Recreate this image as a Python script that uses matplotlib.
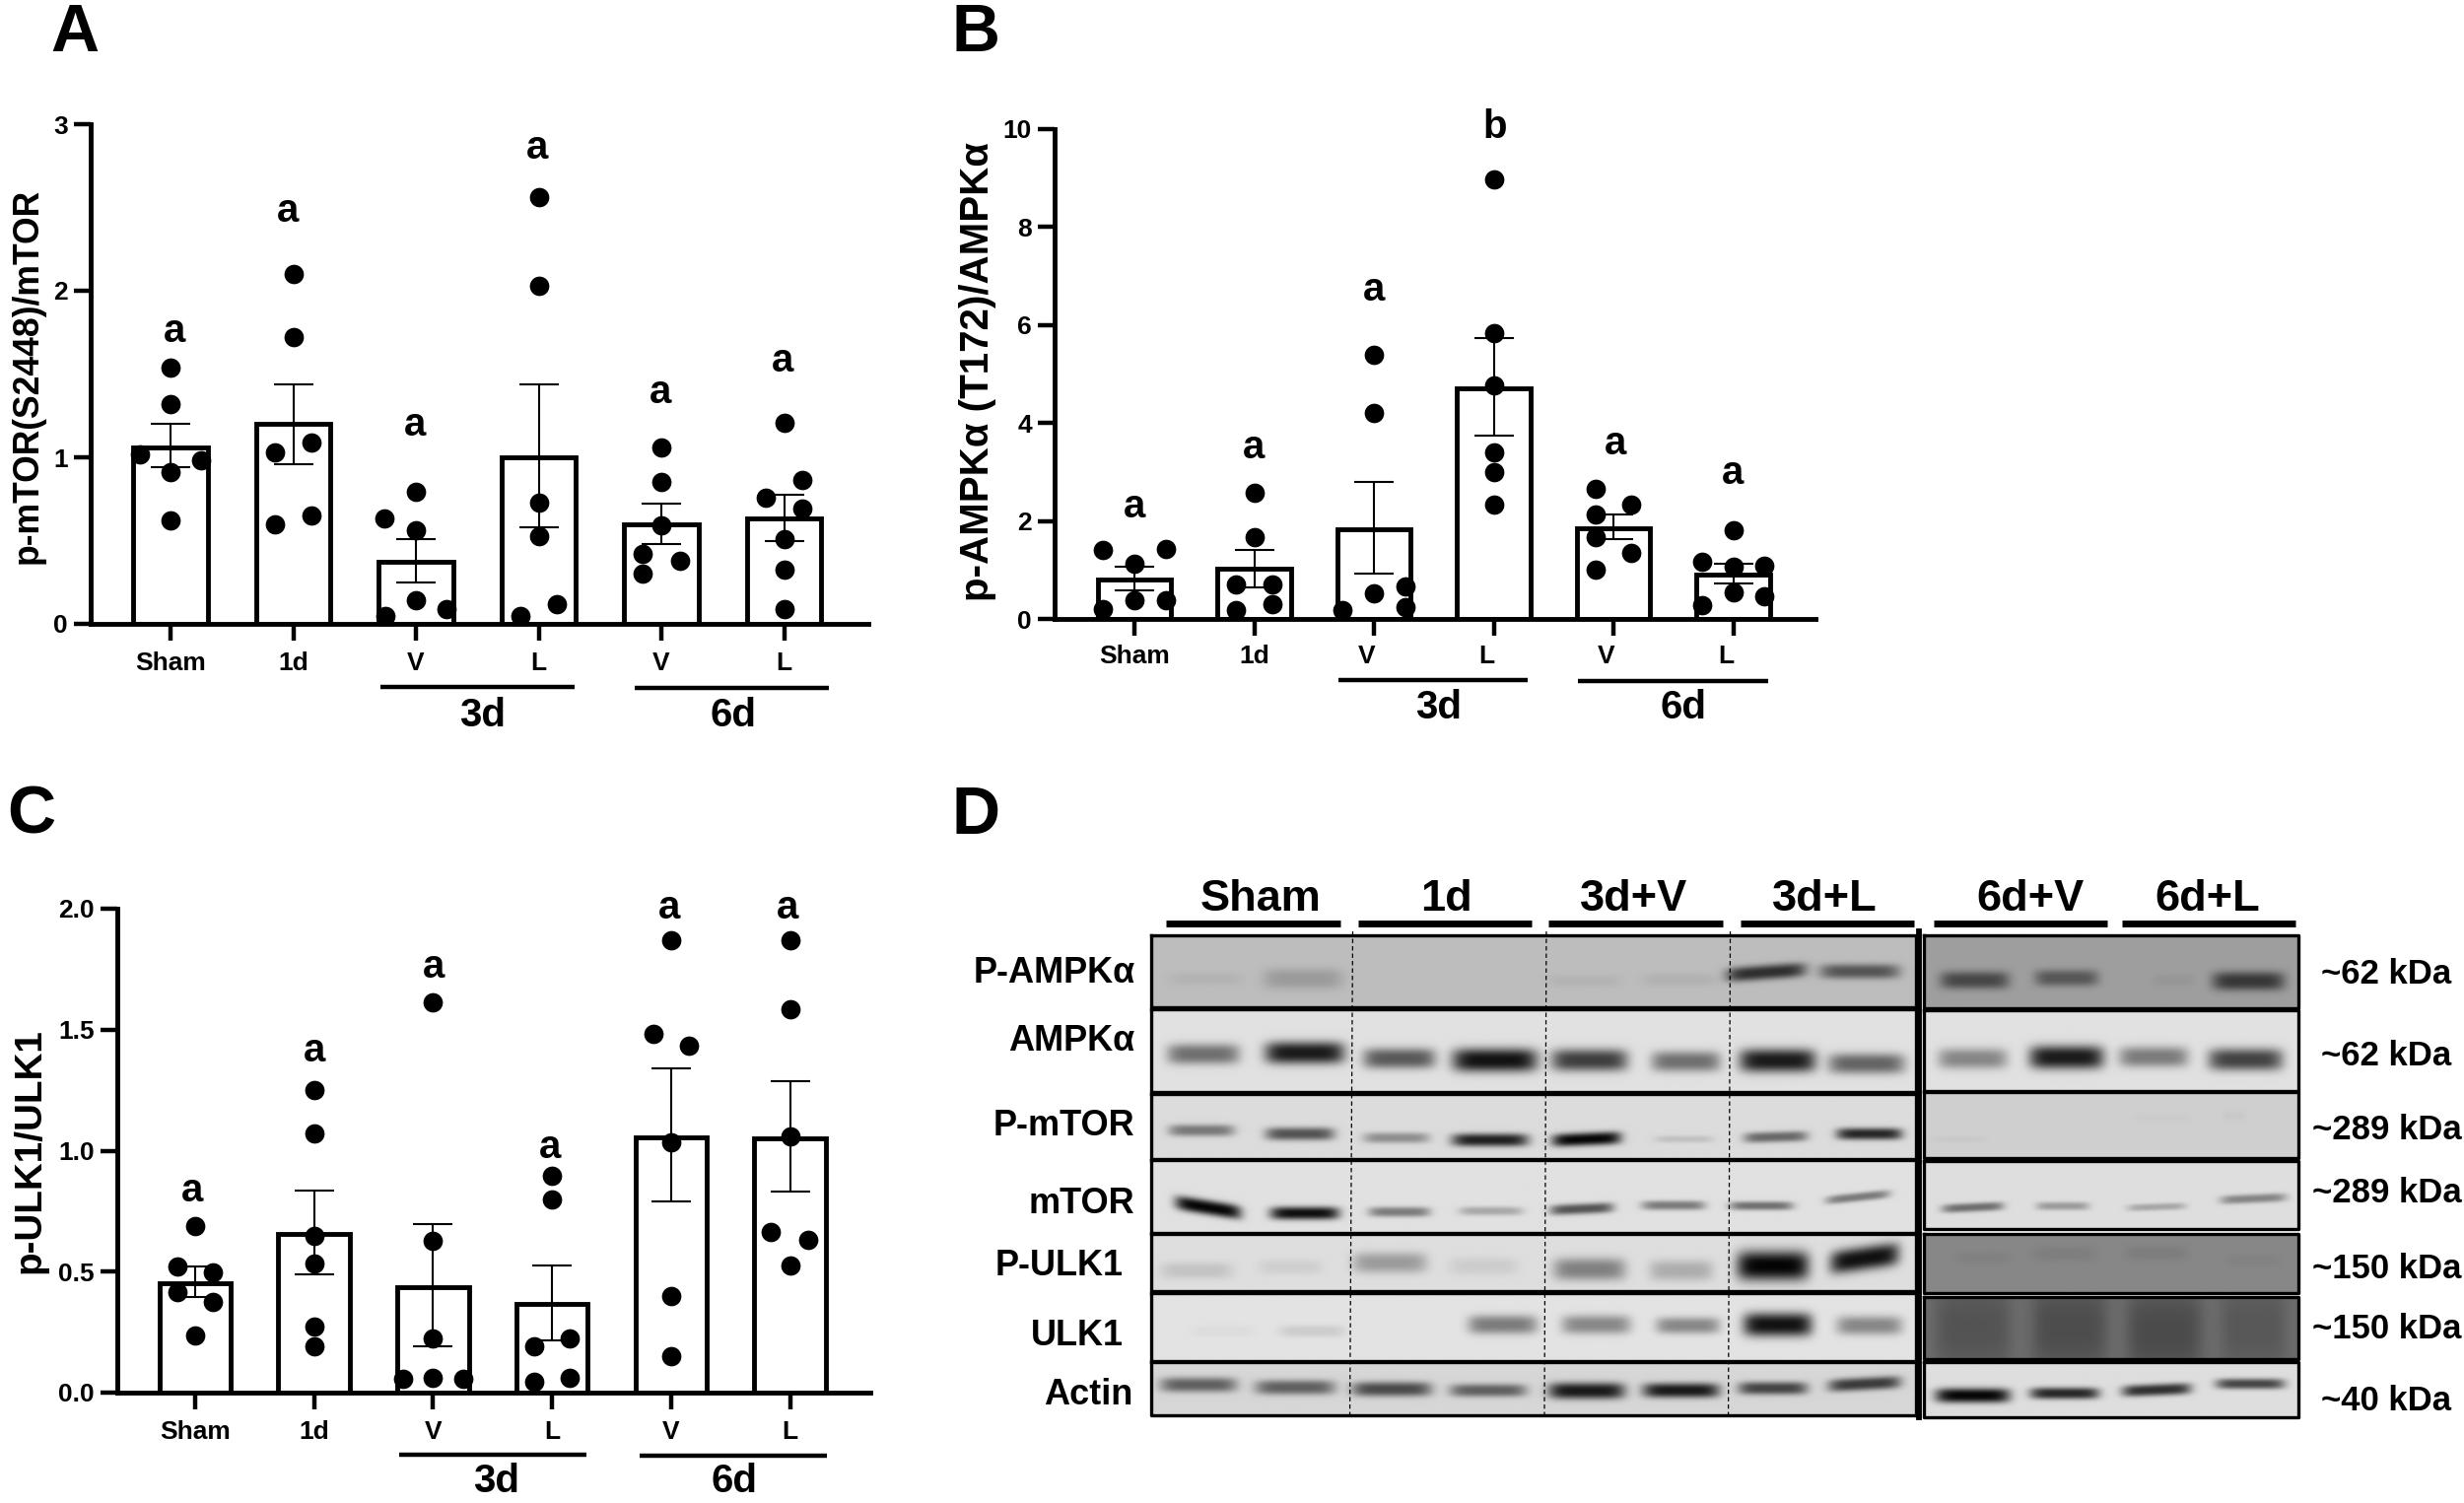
import numpy as np
import matplotlib
matplotlib.use("Agg")
import matplotlib.pyplot as plt
from matplotlib.transforms import ScaledTranslation

plt.rcParams['font.family'] = ['Liberation Sans', 'DejaVu Sans']
plt.rcParams['font.weight'] = 'bold'

W, H = 2500, 1525
cats = ['Sham', '1d', 'V', 'L', 'V', 'L']

# Panel A
a_mean = [1.06, 1.20, 0.37, 1.00, 0.60, 0.635]
a_hi = [1.20, 1.44, 0.51, 1.435, 0.72, 0.775]
a_lo = [0.94, 0.96, 0.25, 0.58, 0.48, 0.50]
a_pts = [[1.54, 1.32, 1.02, 0.98, 0.91, 0.62],
         [2.10, 1.72, 1.03, 1.09, 0.60, 0.65],
         [0.79, 0.635, 0.56, 0.14, 0.05, 0.09],
         [2.56, 2.03, 0.73, 0.525, 0.05, 0.12],
         [1.06, 0.85, 0.59, 0.42, 0.38, 0.30],
         [1.21, 0.865, 0.76, 0.695, 0.51, 0.325, 0.086]]
a_off = [[0, 0, -.25, .25, 0, 0],
         [0, 0, -.15, .15, -.15, .15],
         [0, -.26, 0, 0, -.25, .25],
         [0, 0, 0, 0, -.15, .15],
         [0, 0, 0, -.15, .15, -.15],
         [0, .15, -.15, .15, 0, 0, 0]]
a_let = ['a', 'a', 'a', 'a', 'a', 'a']
a_let_y = [1.76, 2.48, 1.197, 2.857, 1.39, 1.58]

# Panel B
b_mean = [0.80, 1.02, 1.83, 4.70, 1.85, 0.91]
b_hi = [1.06, 1.41, 2.80, 5.73, 2.13, 1.12]
b_lo = [0.585, 0.65, 0.93, 3.74, 1.62, 0.73]
b_pts = [[1.41, 1.43, 1.12, 0.39, 0.39, 0.195],
         [2.58, 1.68, 0.71, 0.71, 0.30, 0.185],
         [5.39, 4.20, 0.67, 0.52, 0.24, 0.185],
         [8.98, 5.83, 4.76, 3.41, 3.0, 2.34],
         [2.65, 2.34, 2.14, 1.68, 1.35, 1.01],
         [1.82, 1.16, 1.07, 1.08, 0.54, 0.47, 0.29]]
b_off = [[-.26, .26, 0, 0, .26, -.26],
         [0, 0, -.15, .15, .15, -.15],
         [0, 0, .26, 0, .26, -.26],
         [0, 0, 0, 0, 0, 0],
         [-.15, .15, -.15, -.15, .15, -.15],
         [0, -.26, 0, .26, 0, .26, -.26]]
b_let = ['a', 'a', 'a', 'b', 'a', 'a']
b_let_y = [2.29, 3.51, 6.73, 10.05, 3.58, 2.98]

# Panel C
c_mean = [0.454, 0.657, 0.437, 0.365, 1.057, 1.05]
c_hi = [0.52, 0.837, 0.696, 0.526, 1.339, 1.287]
c_lo = [0.396, 0.487, 0.19, 0.214, 0.79, 0.829]
c_pts = [[0.69, 0.52, 0.497, 0.415, 0.373, 0.238],
         [1.25, 1.07, 0.647, 0.533, 0.272, 0.19],
         [1.614, 0.628, 0.224, 0.058, 0.06, 0.058],
         [0.895, 0.798, 0.224, 0.19, 0.06, 0.044],
         [1.87, 1.482, 1.434, 1.034, 0.40, 0.15],
         [1.87, 1.583, 1.059, 0.663, 0.63, 0.524]]
c_off = [[0, -.15, .15, -.15, .15, 0],
         [0, 0, 0, 0, 0, 0],
         [0, 0, 0, -.25, 0, .25],
         [0, 0, .15, -.15, .15, -.15],
         [0, -.15, .15, 0, 0, 0],
         [0, 0, 0, -.16, .15, 0]]
c_let = ['a', 'a', 'a', 'a', 'a', 'a']
c_let_y = [0.837, 1.413, 1.76, 1.014, 2.006, 2.006]

# Panel D: blot labels and band tables (lane x, band y, width, height, darkness, tilt)
d_groups = ['Sham', '1d', '3d+V', '3d+L', '6d+V', '6d+L']
d_group_x = [325, 517, 710, 908, 1120, 1303]
d_group_bars = [(227, 407), (426, 605), (622, 802), (821, 1000), (1020, 1199), (1215, 1394)]
d_rows = ['P-AMPKα', 'AMPKα', 'P-mTOR', 'mTOR', 'P-ULK1', 'ULK1', 'Actin']
d_row_y = [463, 620, 815, 995, 1138, 1298, 1435]
d_row_right = [195, 195, 195, 195, 183, 183, 193]
d_kda = ['~62 kDa', '~62 kDa', '~289 kDa', '~289 kDa', '~150 kDa', '~150 kDa', '~40 kDa']
d_kda_y = [465, 655, 825, 970, 1145, 1285, 1450]
left_rows = [(383, 550), (555, 745), (750, 900), (903, 1070), (1072, 1205), (1208, 1365), (1368, 1490)]
right_rows = [(383, 552), (557, 742), (746, 898), (905, 1062), (1073, 1210), (1218, 1362), (1368, 1495)]
left_bg = [0.74, 0.88, 0.86, 0.88, 0.87, 0.89, 0.84]
right_bg = [0.62, 0.88, 0.81, 0.87, 0.53, 0.42, 0.87]
left_bands = [
    [(268, 485, 70, 22, .05, 0), (368, 485, 75, 35, .18, 0), (660, 490, 70, 20, .05, 0), (758, 487, 70, 22, .06, 0),
     (848, 470, 75, 25, .75, -12), (945, 468, 75, 25, .55, 0)],
    [(265, 658, 68, 35, .5, 0), (370, 655, 75, 38, .88, 0), (468, 668, 68, 35, .6, 0), (567, 672, 80, 40, .92, 0),
     (665, 672, 72, 38, .72, 0), (765, 675, 65, 35, .5, 0), (860, 673, 72, 40, .88, 0), (952, 680, 72, 35, .55, 0)],
    [(263, 835, 62, 20, .45, 0), (365, 843, 65, 22, .62, 0), (465, 852, 62, 18, .35, 0), (562, 857, 72, 22, .85, 0),
     (662, 855, 65, 22, .97, -6), (763, 855, 55, 12, .12, 0), (858, 850, 60, 18, .52, -4), (955, 843, 62, 20, .82, 0)],
    [(270, 1012, 62, 25, .97, 22), (370, 1025, 65, 22, .93, 0), (468, 1022, 58, 17, .45, 0), (563, 1020, 60, 15, .25, 0),
     (657, 1015, 60, 18, .62, -6), (752, 1007, 60, 16, .45, 0), (843, 1008, 60, 15, .5, 0), (943, 988, 60, 15, .45, -14)],
    [(258, 1158, 68, 28, .12, 0), (355, 1150, 60, 25, .07, 0), (458, 1140, 70, 35, .3, 0), (555, 1148, 65, 30, .08, 0),
     (665, 1155, 68, 38, .42, 0), (760, 1158, 60, 35, .22, 0), (855, 1147, 68, 50, .98, 0), (950, 1130, 65, 40, .92, -20)],
    [(285, 1297, 60, 20, .03, 0), (378, 1297, 62, 20, .1, 0), (575, 1282, 65, 32, .45, 0), (672, 1282, 65, 32, .4, 0),
     (767, 1284, 60, 28, .4, 0), (860, 1282, 65, 40, .92, 0), (955, 1284, 62, 32, .4, 0)],
    [(260, 1420, 72, 25, .55, 0), (360, 1426, 75, 25, .55, 0), (460, 1430, 75, 25, .65, 0), (560, 1433, 72, 22, .55, 0),
     (662, 1434, 72, 28, .88, 0), (760, 1433, 72, 25, .88, 0), (855, 1428, 65, 22, .68, 0), (950, 1418, 68, 22, .72, -8)],
]
right_bands = [
    [(1062, 488, 65, 30, .55, 0), (1157, 483, 60, 28, .45, 0), (1268, 488, 40, 20, .05, 0), (1345, 490, 68, 32, .65, 0)],
    [(1060, 668, 65, 35, .4, 0), (1157, 665, 70, 40, .88, 0), (1247, 664, 65, 35, .45, 0), (1342, 670, 70, 38, .7, 0)],
    [(1045, 855, 50, 10, .03, 0), (1255, 805, 50, 12, .02, 0), (1330, 800, 20, 15, .03, 0)],
    [(1060, 1013, 58, 15, .5, -6), (1153, 1010, 50, 14, .3, 0), (1250, 1012, 55, 12, .25, -4), (1350, 993, 62, 15, .4, -6)],
    [(1070, 1130, 50, 20, .05, 0), (1155, 1120, 60, 25, .07, 0), (1250, 1118, 60, 25, .07, 0), (1350, 1135, 50, 20, .04, 0)],
    [(1060, 1290, 70, 140, .22, 0), (1160, 1290, 70, 140, .28, 0), (1258, 1300, 70, 140, .3, 0), (1350, 1290, 60, 140, .18, 0)],
    [(1060, 1445, 70, 25, .97, 0), (1155, 1440, 65, 20, .82, 0), (1250, 1432, 65, 20, .78, -6), (1347, 1418, 65, 18, .68, 0)],
]
dash_x = [(420, 417), (620, 618), (810, 808)]

fig = plt.figure(figsize=(W / 100, H / 100), dpi=100, facecolor='white')
bg = fig.add_axes([0, 0, 1, 1])
bg.set_xlim(0, W)
bg.set_ylim(H, 0)
bg.axis('off')


def panel(left, right, y0, ytop, c0, spacing, ymax, yticks, yfmt, mean, hi, lo, pts, off, let, let_y, let_dx,
          ylabel, yl_x, yl_y, yl_fs, bar_w, cap, pad, lab_dx):
    ax = fig.add_axes([left / W, 1 - y0 / H, (right - left) / W, (y0 - ytop) / H])
    ax.patch.set_alpha(0)
    ax.set_xlim((left - c0) / spacing, (right - c0) / spacing)
    ax.set_ylim(0, ymax)
    x = np.arange(len(mean))
    ax.bar(x, mean, width=bar_w, facecolor='white', edgecolor='black', linewidth=3.5, zorder=2)
    ax.errorbar(x, mean, yerr=[np.array(mean) - np.array(lo), np.array(hi) - np.array(mean)], fmt='none',
                ecolor='black', elinewidth=1.5, capsize=cap, capthick=1.5, zorder=3)
    for i, (p, o) in enumerate(zip(pts, off)):
        ax.plot(i + np.array(o), p, 'o', color='black', ms=14.2, mew=0, zorder=4, clip_on=False)
    for i, (t, yy, d) in enumerate(zip(let, let_y, let_dx)):
        ax.annotate(t, xy=(i, yy), xytext=(d * .72, -8), textcoords='offset points', ha='center', va='baseline',
                    fontsize=29, fontweight='bold', color='black', annotation_clip=False)
    for s in ('top', 'right'):
        ax.spines[s].set_visible(False)
    for s in ('left', 'bottom'):
        ax.spines[s].set_linewidth(3.5)
    ax.set_yticks(yticks)
    ax.set_yticklabels([yfmt % v for v in yticks], fontsize=19, fontweight='bold')
    ax.set_xticks(x)
    ax.set_xticklabels(cats, fontsize=19, fontweight='bold')
    ax.tick_params(axis='both', length=12.5, width=3.2)
    ax.tick_params(axis='x', pad=pad)
    ax.tick_params(axis='y', pad=4)
    for l, d in zip(ax.get_xticklabels(), lab_dx):
        l.set_transform(l.get_transform() + ScaledTranslation(d / 100, 0, fig.dpi_scale_trans))
    bg.text(yl_x, yl_y, ylabel, rotation=90, ha='center', va='center', fontsize=yl_fs, fontweight='bold')
    return ax


panel(92, 881, 633, 126, 173, 124.5, 3, [0, 1, 2, 3], '%d', a_mean, a_hi, a_lo, a_pts, a_off, a_let, a_let_y,
      [4, -5, -1, -1, -1, -1], 'p-mTOR(S2448)/mTOR', 28, 381, 25.6, .605, 14.5, 8, [0] * 6)
panel(1070, 1842, 628, 131, 1151, 121.5, 10, [0, 2, 4, 6, 8, 10], '%d', b_mean, b_hi, b_lo, b_pts, b_off, b_let,
      b_let_y, [0, 0, 0, 1, 2, 0], 'p-AMPKα (T172)/AMPKα', 992, 377, 29, .61, 14.5, 6.5, [0, 0, -7, -7, -7, -7])
panel(119, 883, 1413, 922, 198, 120.7, 2, [0, .5, 1, 1.5, 2], '%.1f', c_mean, c_hi, c_lo, c_pts, c_off, c_let,
      c_let_y, [-3, 0, 1, -2, -2, -2], 'p-ULK1/ULK1', 30, 1168, 27.8, .60, 14.5, 8, [0] * 6)

# group bars and captions under the three graphs
group_lines = [(386, 583, 697, '3d', 490, 737), (644, 841, 698, '6d', 744, 737),
               (1358, 1550, 690, '3d', 1460, 729), (1601, 1794, 691, '6d', 1708, 729),
               (405, 595, 1476, '3d', 504, 1514), (649, 839, 1477, '6d', 745, 1514)]
for x0, x1, yy, t, tx, ty in group_lines:
    bg.plot([x0, x1], [yy, yy], color='black', lw=3.2, solid_capstyle='butt')
    bg.text(tx, ty, t, ha='center', va='baseline', fontsize=29, fontweight='bold')

# panel letters
for t, tx, ty in [('A', 76, 52), ('B', 966, 52), ('C', 7, 846), ('D', 966, 846)]:
    bg.text(tx, ty, t, ha='center' if t == 'A' else 'left', va='baseline', fontsize=49, fontweight='bold')


# panel D
def DX(z):
    return 960 + z * 1540 / 1568


def DY(z):
    return 780 + z * 690 / 1568


def blot(x0, x1, y0, y1, base, bands):
    xs = np.linspace(x0, x1, 320)
    ys = np.linspace(y0, y1, 160)
    X, Y = np.meshgrid(xs, ys)
    im = np.ones_like(X)
    for xc, yc, w, h, d, t in bands:
        cy = yc + t * (X - xc) / (w / 2) * 0.5
        g = np.exp(-np.abs((X - xc) / (w * .55)) ** 6) * np.exp(-np.abs((Y - cy) / (h * .68)) ** 2.6)
        im *= 1 - d * g
    im = im * base
    bg.imshow(im, extent=(DX(x0), DX(x1), DY(y1), DY(y0)), cmap='gray', vmin=0, vmax=1, aspect='auto',
              interpolation='bilinear', zorder=1)
    bg.plot([DX(x0), DX(x1), DX(x1), DX(x0), DX(x0)], [DY(y0), DY(y0), DY(y1), DY(y1), DY(y0)], color='black',
            lw=2.4, zorder=2)


for (r0, r1), b, bands in zip(left_rows, left_bg, left_bands):
    blot(212, 1002, r0, r1, b, bands)
for (r0, r1), b, bands in zip(right_rows, right_bg, right_bands):
    blot(1010, 1397, r0, r1, b, bands)
bg.set_xlim(0, W)
bg.set_ylim(H, 0)
bg.plot([DX(1005), DX(1005)], [DY(375), DY(1495)], color='black', lw=4.2, zorder=3)
for x_top, x_bot in dash_x:
    bg.plot([DX(x_top), DX(x_bot)], [DY(375), DY(1490)], color='black', lw=0.9, ls=(0, (3.5, 2.5)), zorder=3)
for t, zx, (b0, b1) in zip(d_groups, d_group_x, d_group_bars):
    bg.text(DX(zx), DY(328), t, ha='center', va='baseline', fontsize=32.5, fontweight='bold')
    bg.plot([DX(b0), DX(b1)], [DY(357), DY(357)], color='black', lw=5, solid_capstyle='butt')
for t, zy, zr in zip(d_rows, d_row_y, d_row_right):
    bg.text(DX(zr), DY(zy), t, ha='right', va='center_baseline', fontsize=26, fontweight='bold')
for t, zy in zip(d_kda, d_kda_y):
    bg.text(DX(1488), DY(zy), t, ha='center', va='center_baseline', fontsize=25, fontweight='bold')

fig.savefig('out.png', dpi=100, facecolor='white')
